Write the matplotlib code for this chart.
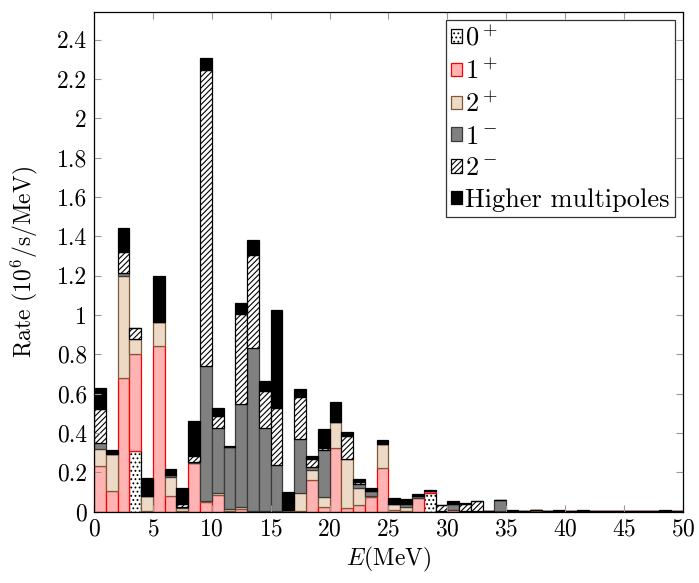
import numpy as np
import matplotlib
matplotlib.use("Agg")
import matplotlib.pyplot as plt
from matplotlib.ticker import FuncFormatter, MultipleLocator

# Energie-Bins (1 MeV breit), linke Kanten
e_left = np.arange(0, 50)

# Beitraege pro Multipol, Rate in 10^6/s/MeV
r_0p = [0, 0, 0, 0.308, 0, 0, 0, 0, 0, 0,
        0, 0, 0, 0, 0, 0, 0, 0, 0, 0,
        0, 0, 0, 0, 0, 0, 0, 0, 0.095, 0,
        0, 0, 0, 0, 0, 0, 0, 0, 0, 0,
        0, 0, 0, 0, 0, 0, 0, 0, 0, 0]
r_1p = [0.234, 0.105, 0.68, 0.492, 0.003, 0.84, 0.08, 0.005, 0.246, 0.049,
        0.083, 0.005, 0.015, 0.003, 0.0, 0.005, 0.005, 0.005, 0.161, 0.025,
        0.322, 0.02, 0.036, 0.073, 0.22, 0.008, 0.005, 0.071, 0.008, 0.003,
        0.01, 0.002, 0.002, 0.004, 0.004, 0.003, 0.003, 0.004, 0.003, 0.002,
        0.003, 0.006, 0.003, 0.003, 0.003, 0.003, 0.003, 0.003, 0.003, 0.003]
r_2p = [0.085, 0.188, 0.52, 0.08, 0.078, 0.125, 0.095, 0.012, 0.003, 0.003,
        0.014, 0.007, 0.009, 0.003, 0.005, 0.0, 0.002, 0.088, 0.051, 0.05,
        0.136, 0.248, 0.084, 0.008, 0.122, 0.031, 0.02, 0.0, 0, 0,
        0, 0, 0, 0, 0, 0, 0, 0.004, 0, 0,
        0, 0, 0, 0, 0, 0, 0, 0, 0, 0]
r_1m = [0.028, 0.0, 0.015, 0.0, 0, 0, 0.01, 0.005, 0.006, 0.688,
        0.33, 0.315, 0.522, 0.824, 0.422, 0.232, 0, 0.276, 0.013, 0.237,
        0, 0, 0.019, 0.024, 0, 0, 0.014, 0.008, 0, 0,
        0.027, 0, 0, 0, 0.055, 0, 0, 0, 0, 0,
        0, 0, 0, 0, 0, 0, 0, 0, 0, 0]
r_2m = [0.175, 0.0, 0.105, 0.055, 0, 0, 0, 0.017, 0.03, 1.505,
        0.059, 0, 0.459, 0.475, 0.186, 0.288, 0.005, 0.212, 0.043, 0.013,
        0, 0.117, 0.014, 0, 0, 0, 0, 0, 0, 0.03,
        0, 0.037, 0.052, 0, 0, 0, 0, 0, 0, 0,
        0, 0, 0, 0, 0, 0, 0, 0, 0, 0]
r_hi = [0.108, 0.02, 0.12, 0.0, 0.092, 0.235, 0.032, 0.08, 0.176, 0.06,
        0.043, 0.005, 0.055, 0.075, 0.052, 0.5, 0.088, 0.041, 0.015, 0.094,
        0.1, 0.02, 0.011, 0.017, 0.022, 0.029, 0.024, 0.013, 0.009, 0.002,
        0.017, 0.003, 0.002, 0.001, 0, 0.007, 0.002, 0, 0, 0.008,
        0, 0.003, 0, 0, 0, 0, 0, 0, 0.004, 0]

labels = ["$0^+$", "$1^+$", "$2^+$", "$1^-$", "$2^-$", "Higher multipoles"]

plt.rcParams["font.family"] = "cmr10"
plt.rcParams["mathtext.fontset"] = "cm"
plt.rcParams["axes.formatter.use_mathtext"] = True
plt.rcParams["hatch.linewidth"] = 0.8

# (facecolor, edgecolor, hatch) je Komponente
styles = [
    ("white", "black", "...."),
    ("#ffb3b3", "red", None),
    ("#ecd9c6", "#7f5a38", None),
    ("#808080", "#3a3a3a", None),
    ("white", "black", "//////"),
    ("black", "black", None),
]

fig = plt.figure(figsize=(6.99, 5.83), dpi=100)
ax = fig.add_axes([0.1345, 0.1223, 0.8425, 0.857])

bottom = np.zeros(len(e_left))
for vals, lab, (fc, ec, hatch) in zip([r_0p, r_1p, r_2p, r_1m, r_2m, r_hi], labels, styles):
    vals = np.array(vals)
    ax.bar(e_left, vals, width=1.0, bottom=bottom, align="edge",
           facecolor=fc, edgecolor=ec, hatch=hatch, linewidth=0.9, label=lab)
    bottom += vals

ax.set_xlim(0, 50)
ax.set_ylim(0, 2.54)
ax.xaxis.set_major_locator(MultipleLocator(5))
ax.yaxis.set_major_locator(MultipleLocator(0.2))
ax.yaxis.set_major_formatter(FuncFormatter(lambda v, p: f"{v:g}"))
ax.tick_params(direction="in", top=True, right=True, length=5, width=0.8,
               color="#999999", labelsize=17, pad=5)
for s in ax.spines.values():
    s.set_linewidth(0.9)

ax.set_xlabel("$E$(MeV)", fontsize=17, labelpad=3)
ax.set_ylabel("Rate (10$^6$/s/MeV)", fontsize=17, labelpad=12)

leg = ax.legend(loc="upper right", fontsize=19, frameon=True, fancybox=False,
                edgecolor="black", handlelength=0.42, handleheight=0.42,
                handletextpad=0.12, labelspacing=0.3, borderpad=0.2,
                borderaxespad=0.3)
leg.get_frame().set_linewidth(0.9)

fig.savefig("out.png", dpi=100)
